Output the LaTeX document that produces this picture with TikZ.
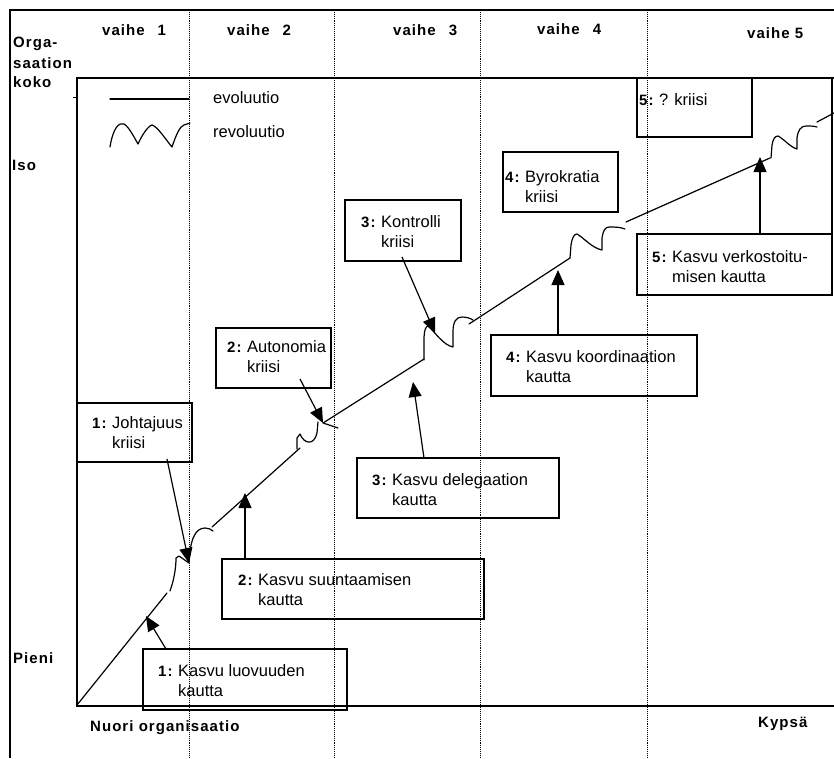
\documentclass[tikz,border=0pt]{standalone}
\usepackage{fontspec}
\setmainfont{Liberation Sans}
\newfontfamily\lblfont[LetterSpace=7]{Liberation Sans Bold}
\usetikzlibrary{arrows.meta,calc}
\newcommand{\numlbl}[1]{\makebox[20pt][l]{\lblfont\fontsize{15}{20}\selectfont #1}}
\begin{document}
\begin{tikzpicture}[x=1pt,y=-1pt,
  frame/.style={line width=1.3pt},
  vline/.style={densely dotted, line width=0.9pt},
  curve/.style={line width=1.2pt, line join=round, line cap=round},
  arr/.style={line width=1.2pt, -{Triangle[length=15pt,width=13pt]}},
  boxst/.style={draw, line width=1.3pt, inner sep=0pt},
  txt/.style={anchor=base west, inner sep=0pt, font=\fontsize{16.5}{20}\selectfont},
  lbl/.style={anchor=base west, inner sep=0pt, font=\lblfont\fontsize{15}{20}\selectfont}]
\useasboundingbox (0,0) rectangle (834,758);
% frames
\draw[frame] (834,10) -- (10,10) -- (10,758);
\draw[frame] (834,78) -- (77,78) -- (77,706) -- (834,706);
\draw[line width=1pt] (73,97) -- (76,97);
\draw[frame] (832,78) -- (832,234);
% phase separators
\foreach \xx in {189,334,480,647} \draw[vline] (\xx,10) -- (\xx,758);
% headers and axis labels
\node[lbl] (h1) at (102,35) {vaihe\hspace{13pt}1};
\node[lbl] (h2) at (227,35) {vaihe\hspace{13pt}2};
\node[lbl] (h3) at (393,35) {vaihe\hspace{13pt}3};
\node[lbl] (h4) at (537,34) {vaihe\hspace{13pt}4};
\node[lbl] (h5) at (747,38) {vaihe 5};
\node[lbl] (y1) at (13,47) {Orga-};
\node[lbl] (y2) at (13,68) {saation};
\node[lbl] (y3) at (13,87) {koko};
\node[lbl] (iso) at (12,170) {Iso};
\node[lbl] (pieni) at (13,663) {Pieni};
\node[lbl] (nuori) at (90,731) {Nuori organisaatio};
\node[lbl] (kypsa) at (758,727) {Kypsä};
% legend
\draw[curve] (110,99) -- (189,99);
\node[txt] (evo) at (213,103) {evoluutio};
\draw[curve] (110,147) .. controls (113,128) and (119,122) .. (124,124)
  .. controls (129,127) and (134,137) .. (138,144)
  .. controls (142,135) and (148,126) .. (152,125)
  .. controls (158,127) and (166,140) .. (172,147)
  .. controls (176,135) and (180,126) .. (184,125) -- (190,123);
\node[txt] (revo) at (213,137) {revoluutio};
% boxes
\node[boxst, minimum width=204pt, minimum height=61pt] (bK1) at (245,679.5) {};
\node[boxst, minimum width=262pt, minimum height=60pt] (bK2) at (353,589) {};
\node[boxst, minimum width=115pt, minimum height=59pt] (bJ1) at (134.5,432.5) {};
\node[boxst, minimum width=115pt, minimum height=60pt] (bA2) at (273.5,358) {};
\node[boxst, minimum width=202pt, minimum height=60pt] (bD3) at (458,488) {};
\node[boxst, minimum width=116pt, minimum height=61pt] (bC3) at (403,230.5) {};
\node[boxst, minimum width=115pt, minimum height=60pt] (bB4) at (560.5,182) {};
\node[boxst, minimum width=206pt, minimum height=61pt] (bK4) at (594,365.5) {};
\node[boxst, minimum width=115pt, minimum height=59pt] (bQ5) at (694.5,107.5) {};
\node[boxst, minimum width=195pt, minimum height=61pt] (bV5) at (734.5,264.5) {};
% box texts
\node[txt] (tK1) at (158,676) {\begin{tabular}[t]{@{}l@{}l@{}}\numlbl{1:}&Kasvu luovuuden\\&kautta\end{tabular}};
\node[txt] (tK2) at (238,585) {\begin{tabular}[t]{@{}l@{}l@{}}\numlbl{2:}&Kasvu suuntaamisen\\&kautta\end{tabular}};
\node[txt] (tJ1) at (92,428) {\begin{tabular}[t]{@{}l@{}l@{}}\numlbl{1:}&Johtajuus\\&kriisi\end{tabular}};
\node[txt] (tA2) at (227,352) {\begin{tabular}[t]{@{}l@{}l@{}}\numlbl{2:}&Autonomia\\&kriisi\end{tabular}};
\node[txt] (tD3) at (372,485) {\begin{tabular}[t]{@{}l@{}l@{}}\numlbl{3:}&Kasvu delegaation\\&kautta\end{tabular}};
\node[txt] (tC3) at (361,227) {\begin{tabular}[t]{@{}l@{}l@{}}\numlbl{3:}&Kontrolli\\&kriisi\end{tabular}};
\node[txt] (tB4) at (505,182) {\begin{tabular}[t]{@{}l@{}l@{}}\numlbl{4:}&Byrokratia\\&kriisi\end{tabular}};
\node[txt] (tK4) at (506,362) {\begin{tabular}[t]{@{}l@{}l@{}}\numlbl{4:}&Kasvu koordinaation\\&kautta\end{tabular}};
\node[txt] (tQ5) at (639,105) {\begin{tabular}[t]{@{}l@{}l@{}}\numlbl{5:}&? kriisi\end{tabular}};
\node[txt] (tV5) at (652,262) {\begin{tabular}[t]{@{}l@{}l@{}}\numlbl{5:}&Kasvu verkostoitu-\\&misen kautta\end{tabular}};
% growth curve
\draw[curve] (77,705) -- (167,593);
\draw[curve] (170,591) .. controls (174,580) and (176,568) .. (176,558) -- (179,556) -- (189,563)
  .. controls (190,540) and (195,528) .. (205,528) .. controls (208,528) and (211,529) .. (213,531);
\draw[curve] (212,527) -- (300,448);
\draw[curve] (297,449) -- (297,438) -- (300,434) .. controls (304,444) and (314,446) .. (317,433) -- (318,422);
\draw[curve] (338,428) -- (323,423) -- (424,359);
\draw[curve] (424,360) -- (424,340) .. controls (424,330) and (426,326) .. (428,326)
  .. controls (435,332) and (443,345) .. (453,347) -- (453,332)
  .. controls (453,322) and (456,317) .. (462,317) .. controls (466,317) and (470,318) .. (473,320);
\draw[curve] (469,324) -- (570,258);
\draw[curve] (570,258) -- (571,245) .. controls (572,238) and (574,234) .. (577,234)
  .. controls (584,238) and (592,248) .. (602,250) -- (602,238)
  .. controls (603,231) and (605,227) .. (609,227) .. controls (615,227) and (620,227) .. (625,229);
\draw[curve] (626,222) -- (770,158);
\draw[curve] (771,158) -- (772,145) .. controls (773,139) and (775,136) .. (778,136)
  .. controls (784,139) and (790,147) .. (797,149) -- (797,138)
  .. controls (798,130) and (801,126) .. (806,126) .. controls (810,126) and (814,126) .. (817,127);
\draw[curve] (817,122) -- (834,113);
% arrow endpoints
\coordinate (eK1) at (146,616);
\coordinate (eK2) at (245,493);
\coordinate (eJ1) at (189,563);
\coordinate (eA2) at (323,423);
\coordinate (eD3) at (413,382);
\coordinate (eC3) at (435,333);
\coordinate (eK4) at (558,270);
\coordinate (eV5) at (760,157);
\coordinate (sK1) at (166,649);
\coordinate (sK2) at (245,559);
\coordinate (sJ1) at (167,459);
\coordinate (sA2) at (300,379);
\coordinate (sD3) at (424,458);
\coordinate (sC3) at (402,257);
\coordinate (sK4) at (558,335);
\coordinate (sV5) at (760,234);
\draw[arr] (sK1) -- (eK1);
\draw[arr] (sK2) -- (eK2);
\draw[arr] (sJ1) -- (eJ1);
\draw[arr] (sA2) -- (eA2);
\draw[arr] (sD3) -- (eD3);
\draw[arr] (sC3) -- (eC3);
\draw[arr] (sK4) -- (eK4);
\draw[arr] (sV5) -- (eV5);
\end{tikzpicture}
\end{document}
